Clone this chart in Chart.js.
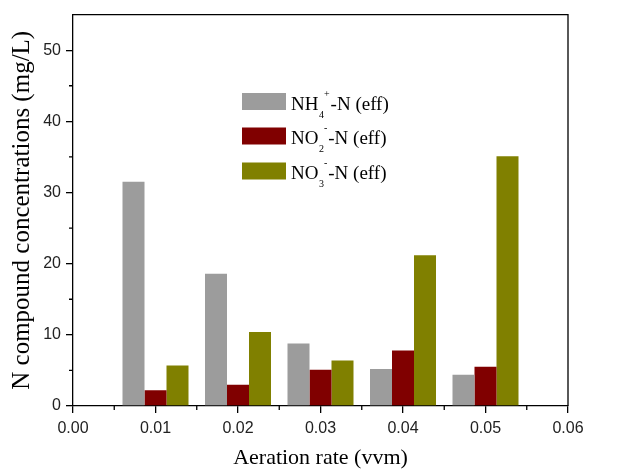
<!DOCTYPE html>
<html><head><meta charset="utf-8">
<script src="https://cdn.jsdelivr.net/npm/chart.js@4"></script>
<style>html,body{margin:0;padding:0;background:#fff}</style>
</head><body>
<canvas id="c" width="633" height="475"></canvas>
<script>
const aerationRates = [0.01, 0.02, 0.03, 0.04, 0.05];
const nh4Eff = [31.5, 18.6, 8.8, 5.2, 4.4];
const no2Eff = [2.2, 3.0, 5.1, 7.8, 5.5];
const no3Eff = [5.7, 10.4, 6.4, 21.2, 35.1];
const seriesNames = ['NH4+-N (eff)', 'NO2--N (eff)', 'NO3--N (eff)'];
const legendParts = [
  [{t:'NH'}, {sub:'4', sup:'+'}, {t:'-N (eff)'}],
  [{t:'NO'}, {sub:'2', sup:'-'}, {t:'-N (eff)'}],
  [{t:'NO'}, {sub:'3', sup:'-'}, {t:'-N (eff)'}]
];
const xTickValues = [0, 0.01, 0.02, 0.03, 0.04, 0.05, 0.06];
const xMinorValues = [0.005, 0.015, 0.025, 0.035, 0.045, 0.055];
const yTickValues = [0, 10, 20, 30, 40, 50];
const yMinorValues = [5, 15, 25, 35, 45];
const colors = ['#9c9c9c', '#800000', '#808000'];

const toPoints = arr => arr.map((v, i) => ({x: aerationRates[i], y: v}));

const framePlugin = {
  id: 'frame',
  afterDraw(chart) {
    const {ctx, chartArea: a, scales: {x, y}} = chart;
    ctx.save();
    ctx.strokeStyle = '#000';
    ctx.lineWidth = 1.3;
    ctx.beginPath();
    ctx.moveTo(a.left, a.top); ctx.lineTo(a.right, a.top); ctx.lineTo(a.right, a.bottom);
    xMinorValues.forEach(v => { const px = x.getPixelForValue(v); ctx.moveTo(px, a.bottom); ctx.lineTo(px, a.bottom + 4); });
    yMinorValues.forEach(v => { const py = y.getPixelForValue(v); ctx.moveTo(a.left, py); ctx.lineTo(a.left - 4, py); });
    ctx.stroke();
    // legend
    const lx = 242, bw = 44, bh = 17, tx = 291;
    const rowsY = [101.5, 136, 171];
    chart.data.datasets.forEach((ds, i) => {
      const cy = rowsY[i];
      ctx.fillStyle = ds.backgroundColor;
      ctx.fillRect(lx, cy - bh / 2, bw, bh);
      let cx = tx;
      ctx.fillStyle = '#000';
      ctx.textBaseline = 'alphabetic';
      const base = cy + 8;
      legendParts[i].forEach(p => {
        if (p.t) {
          ctx.font = '19px "Liberation Serif"';
          ctx.fillText(p.t, cx, base);
          cx += ctx.measureText(p.t).width;
        } else {
          ctx.font = '10px "Liberation Serif"';
          ctx.fillText(p.sub, cx + 0.5, base + 8);
          const w1 = ctx.measureText(p.sub).width;
          ctx.fillText(p.sup, cx + w1 + 0.5, base - 13);
          const w2 = ctx.measureText(p.sup).width;
          cx += w1 + w2 + 1.5;
        }
      });
    });
    ctx.restore();
  }
};

new Chart(document.getElementById('c'), {
  type: 'bar',
  data: {
    datasets: [
      {label: seriesNames[0], data: toPoints(nh4Eff), backgroundColor: colors[0]},
      {label: seriesNames[1], data: toPoints(no2Eff), backgroundColor: colors[1]},
      {label: seriesNames[2], data: toPoints(no3Eff), backgroundColor: colors[2]}
    ]
  },
  options: {
    responsive: false,
    animation: false,
    devicePixelRatio: 1,
    layout: {padding: {top: 10, right: 65, left: 0, bottom: 0}},
    datasets: {bar: {categoryPercentage: 0.8, barPercentage: 1.0}},
    plugins: {legend: {display: false}, tooltip: {enabled: false}},
    scales: {
      x: {
        type: 'linear', min: 0, max: 0.06, offset: false,
        afterBuildTicks: s => { s.ticks = xTickValues.map(v => ({value: v})); },
        afterFit: s => { s.height = 69; },
        ticks: {callback: v => Number(v).toFixed(2), font: {family: '"Liberation Sans"', size: 16}, color: '#222', padding: 6, maxRotation: 0, autoSkip: false},
        grid: {offset: false, drawOnChartArea: false, tickLength: 7, color: '#000', lineWidth: 1.3},
        border: {display: true, color: '#000', width: 1.3},
        title: {display: true, text: 'Aeration rate (vvm)', font: {family: '"Liberation Serif"', size: 22}, color: '#000', padding: {top: 0, bottom: 4}}
      },
      y: {
        min: 0, max: 55,
        afterBuildTicks: s => { s.ticks = yTickValues.map(v => ({value: v})); },
        afterFit: s => { s.width = 73; },
        ticks: {font: {family: '"Liberation Sans"', size: 16}, color: '#222', padding: 5},
        grid: {offset: false, drawOnChartArea: false, tickLength: 7, color: '#000', lineWidth: 1.3},
        border: {display: true, color: '#000', width: 1.3},
        title: {display: true, text: 'N compound concentrations (mg/L)', font: {family: '"Liberation Serif"', size: 25}, color: '#000', padding: {top: 7, bottom: 0}}
      }
    }
  },
  plugins: [framePlugin]
});
</script>
</body></html>
